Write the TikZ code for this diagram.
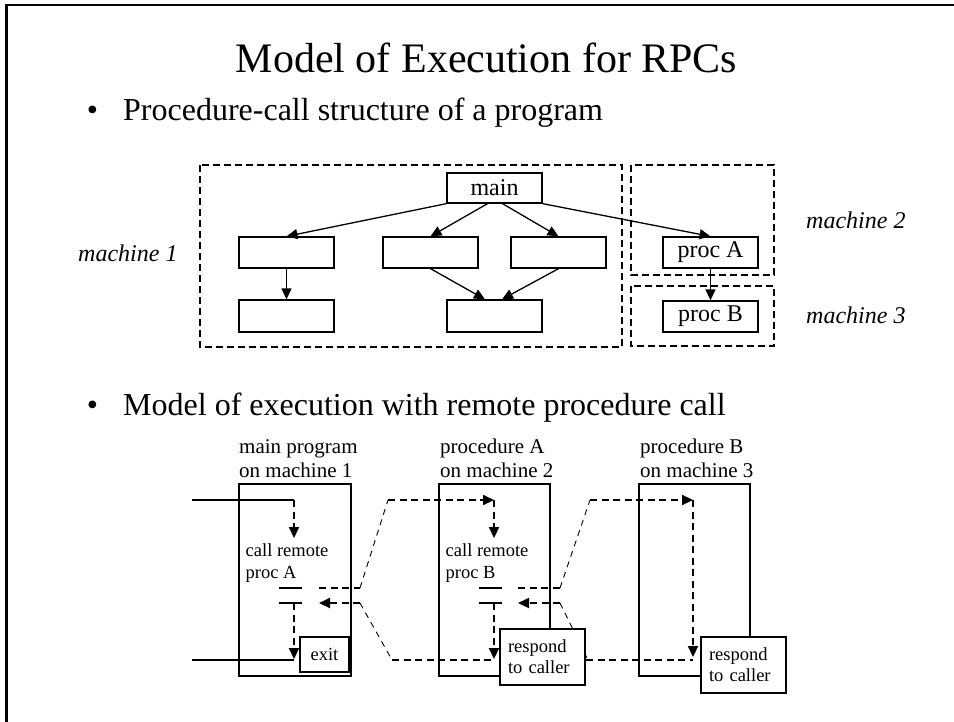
\documentclass[tikz,border=0pt]{standalone}
\usepackage{fontspec}
\setmainfont{Liberation Serif}
\usetikzlibrary{arrows.meta}
\begin{document}
\begin{tikzpicture}[x=1pt,y=-1pt,
  tip/.style={-{Triangle[length=11pt,width=10pt]}},
  boxline/.style={line width=1.3pt},
  pbox/.style={draw, boxline, fill=white, inner sep=0pt, minimum width=95pt, minimum height=31pt, font=\fontsize{24}{28}\selectfont},
  mbox/.style={draw, line width=1.9pt, dash pattern=on 7pt off 4pt},
  mlabel/.style={inner sep=0pt, anchor=base west, font=\fontsize{24}{28}\selectfont\itshape},
  colbox/.style={draw, boxline, inner sep=0pt, minimum width=111pt, minimum height=192pt},
  lbl/.style={inner sep=0pt, anchor=base west, font=\fontsize{21}{24}\selectfont},
  small/.style={inner sep=0pt, anchor=base west, font=\fontsize{18.5}{21}\selectfont},
  sbox/.style={draw, boxline, fill=white, inner sep=0pt, align=left, font=\fontsize{18.5}{21}\selectfont},
  thick dash/.style={line width=2.1pt, dash pattern=on 7pt off 4.5pt},
  thin dash/.style={line width=0.9pt, dash pattern=on 6pt off 5pt},
  solidline/.style={line width=1.3pt},
  bullettext/.style={inner sep=0pt, anchor=base west, font=\fontsize{32}{38}\selectfont}
]
\useasboundingbox (0,0) rectangle (954,721);
% frame
\draw[line width=2.5pt] (6.5,740) -- (6.5,5) -- (970,5);

% title and bullets
\node[inner sep=0pt, anchor=base, font=\fontsize{42}{48}\selectfont] (title) at (486.5,72) {Model of Execution for RPCs};
\node[inner sep=0pt, anchor=base, font=\fontsize{32}{38}\selectfont] (b1) at (92.5,120) {\textbullet};
\node[bullettext] (t1) at (123,120) {Procedure-call structure of a program};
\node[inner sep=0pt, anchor=base, font=\fontsize{32}{38}\selectfont] (b2) at (92.5,415) {\textbullet};
\node[bullettext] (t2) at (123,415) {Model of execution with remote procedure call};

% ---------- top diagram ----------
\draw[mbox] (200,165) rectangle (622,347);
\draw[mbox] (631,165) rectangle (774,275);
\draw[mbox] (631,286) rectangle (774,346);

\node[pbox, minimum height=30pt] (main) at (494.5,188) {main};
\node[pbox] (n1) at (286.5,252.5) {};
\node[pbox] (n2) at (430.5,252.5) {};
\node[pbox] (n3) at (558.5,252.5) {};
\node[pbox, minimum height=32pt] (n4) at (286.5,316) {};
\node[pbox, minimum height=32pt] (n5) at (494.5,316) {};
\node[pbox] (pa) at (710.5,252.5) {proc A};
\node[pbox] (pb) at (710.5,316.5) {proc B};

\node[mlabel] (m1) at (78,261) {machine 1};
\node[mlabel] (m2) at (806,228) {machine 2};
\node[mlabel] (m3) at (806,323) {machine 3};

\draw[boxline, tip] (main.south west) -- (n1.north);
\draw[boxline, tip] ([xshift=-7pt]main.south) -- (n2.north);
\draw[boxline, tip] ([xshift=8pt]main.south) -- (n3.north);
\draw[boxline, tip] (main.south east) -- (pa.north);
\draw[boxline, tip] (n1.south) -- (n4.north);
\draw[boxline, tip] (n2.south) -- ([xshift=-9.5pt]n5.north);
\draw[boxline, tip] (n3.south) -- ([xshift=7.5pt]n5.north);
\draw[boxline, tip] (pa.south) -- (pb.north);

% ---------- bottom diagram ----------
\node[colbox, minimum width=112pt] (c1) at (295,580) {};
\node[colbox] (c2) at (494.5,580) {};
\node[colbox] (c3) at (694.5,580) {};

\node[lbl] (l1a) at (239,453) {main program};
\node[lbl] (l1b) at (239,477) {on machine 1};
\node[lbl] (l2a) at (440,453) {procedure A};
\node[lbl] (l2b) at (440,477) {on machine 2};
\node[lbl] (l3a) at (640,453) {procedure B};
\node[lbl] (l3b) at (640,477) {on machine 3};

\node[small] (cra) at (245.5,556) {call remote};
\node[small] (cpa) at (245.5,578) {proc A};
\node[small] (crb) at (445.5,556) {call remote};
\node[small] (cpb) at (445.5,578) {proc B};

% short bars
\coordinate (s1l) at (279,588); \coordinate (s1r) at (302,588);
\coordinate (s2l) at (279,603); \coordinate (s2r) at (302,603);
\coordinate (s3l) at (479,588); \coordinate (s3r) at (502,588);
\coordinate (s4l) at (479,603); \coordinate (s4r) at (502,603);
\draw[boxline] (s1l) -- (s1r);
\draw[boxline] (s2l) -- (s2r);
\draw[boxline] (s3l) -- (s3r);
\draw[boxline] (s4l) -- (s4r);

% path coordinates
\coordinate (inL) at (192,500);
\coordinate (inC) at (294,500);
\coordinate (inT) at (294,538);
\coordinate (exS) at (294,603);
\coordinate (exT) at (294,659);
\coordinate (outL) at (192,660);
\coordinate (outR) at (294,660);
\coordinate (a1) at (319,588);
\coordinate (a2) at (360,588);
\coordinate (a3) at (388,500);
\coordinate (a4) at (494,500);
\coordinate (a5) at (494,538);
\coordinate (r1) at (319,603);
\coordinate (r2) at (360,603);
\coordinate (r3) at (392,660);
\coordinate (r4) at (494,660);
\coordinate (rsA) at (494,603);
\coordinate (rtA) at (494,659);
\coordinate (b1c) at (518,588);
\coordinate (b2c) at (560,588);
\coordinate (b3c) at (590,500);
\coordinate (b4c) at (693,500);
\coordinate (b5c) at (693,657);
\coordinate (q1) at (518,603);
\coordinate (q2) at (560,603);
\coordinate (q3) at (588,660);
\coordinate (q4) at (586,660);
\coordinate (q5) at (693,660);

\draw[solidline] (inL) -- (inC);
\draw[thick dash, tip] (inC) -- (inT);
\draw[thick dash, tip] (exS) -- (exT);
\draw[solidline] (outL) -- (outR);

\draw[thick dash] (a1) -- (a2);
\draw[thin dash] (a2) -- (a3);
\draw[thick dash, tip] (a3) -- (a4);
\draw[thick dash, tip] (a4) -- (a5);

\draw[thick dash, tip] (r2) -- (r1);
\draw[thin dash] (r2) -- (r3);
\draw[thick dash] (r3) -- (r4);

\draw[thick dash, tip] (rsA) -- (rtA);
\draw[thick dash] (b1c) -- (b2c);
\draw[thin dash] (b2c) -- (b3c);
\draw[thick dash, tip] (b3c) -- (b4c);
\draw[thick dash, tip] (b4c) -- (b5c);

\draw[thick dash, tip] (q2) -- (q1);
\draw[thin dash] (q2) -- (q3);
\draw[thick dash] (q4) -- (q5);

% boxes on top
\node[sbox, minimum width=49pt, minimum height=35pt] (exit) at (324.5,654.5) {exit};
\node[sbox, minimum width=85pt, minimum height=56pt, text width=69pt] (respA) at (542.5,657) {respond\\to caller};
\node[sbox, minimum width=85pt, minimum height=56pt, text width=69pt] (respB) at (743.5,665) {respond\\to caller};
\end{tikzpicture}
\end{document}
